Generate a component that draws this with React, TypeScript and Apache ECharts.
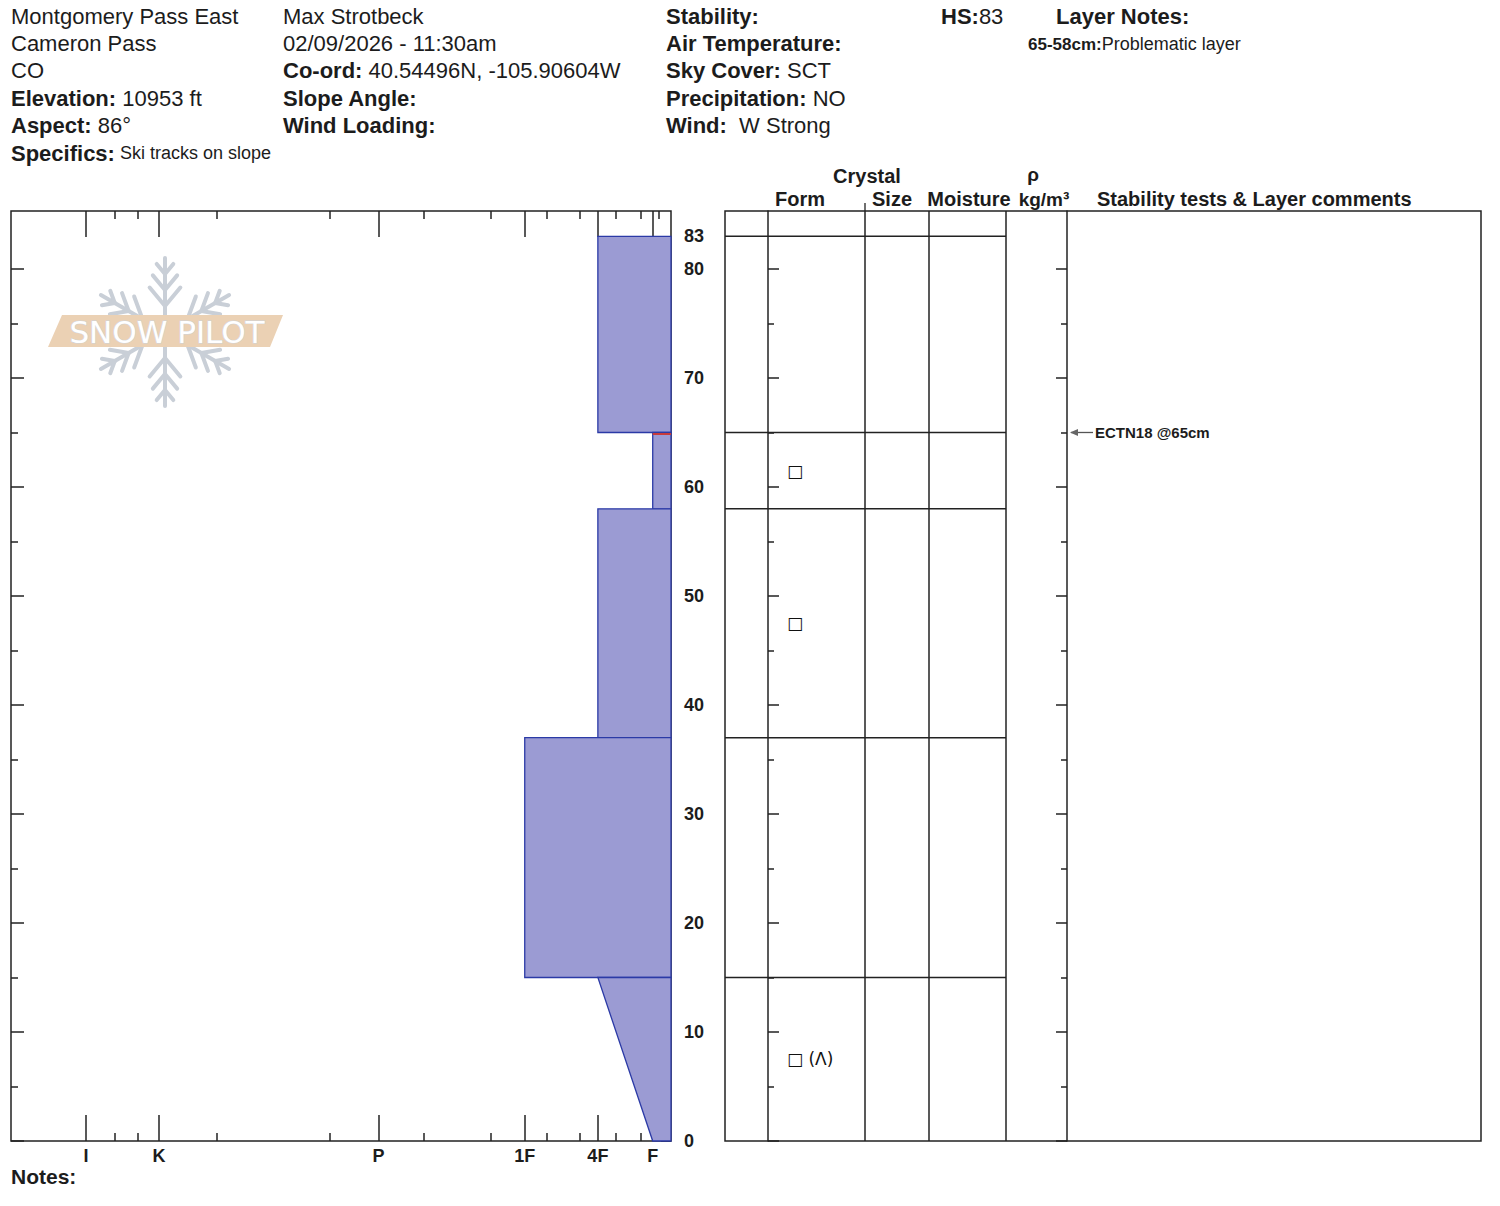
import React, { useEffect, useRef } from "react";
import * as echarts from "echarts";

// ---------- data ----------
const HARDNESS_CODES = ["F", "4F", "1F", "P", "K", "I"];
const HARDNESS_VALUES = [1, 4, 8, 16, 28, 32];
const HARDNESS_MINOR_VALUES = [0.68, 1.67, 3.01, 5.0, 6.77, 9.85, 13.51, 18.68, 24.84, 29.18, 30.42];
const HARDNESS_AXIS_MAX = 36.1;

const DEPTH_MAX = 85.32;
const DEPTH_MAJOR_TICKS = [0, 10, 20, 30, 40, 50, 60, 70, 80];
const DEPTH_MINOR_TICKS = [5, 15, 25, 35, 45, 55, 65, 75];
const DEPTH_LABELS = [0, 10, 20, 30, 40, 50, 60, 70, 80, 83];

const LAYER_TOP = [83, 65, 58, 37, 15];
const LAYER_BOTTOM = [65, 58, 37, 15, 0];
const LAYER_HARD_TOP = ["4F", "F", "4F", "1F", "4F"];
const LAYER_HARD_BOTTOM = ["4F", "F", "4F", "1F", "F"];
const LAYER_FORM = ["", "□", "□", "", "□ (Λ)"];

const TEST_DEPTH = [65];
const TEST_TEXT = ["ECTN18 @65cm"];

// ---------- layout constants ----------
const FONT = "'Liberation Sans', Arial, Helvetica, sans-serif";
const INK = "#1c1c1c";
const LINE = "#222";
const TABLE_WIDTH = 756;
const COL_FORM_START = 43;
const COL_SIZE_START = 140;
const COL_MOIST_START = 204;
const COL_DENS_START = 281;
const COL_COMMENT_START = 342;
const FORM_TEXT_X = 62;

const hv = (code: string) => HARDNESS_VALUES[HARDNESS_CODES.indexOf(code)];

function txt(x: number, y: number, text: string, size: number, bold = false, align = "left", extra: any = {}) {
  return {
    type: "text",
    x,
    y,
    silent: true,
    style: {
      text,
      fill: INK,
      fontSize: size,
      fontFamily: FONT,
      fontWeight: bold ? "bold" : "normal",
      align,
      verticalAlign: "middle",
      ...extra,
    },
  };
}

function richTxt(x: number, y: number, label: string, value: string, size = 22, valueSize = 22) {
  return {
    type: "text",
    x,
    y,
    silent: true,
    style: {
      text: `{b|${label}}{r|${value}}`,
      fill: INK,
      fontSize: size,
      fontFamily: FONT,
      verticalAlign: "middle",
      rich: {
        b: { fontWeight: "bold", fontSize: size, fontFamily: FONT, fill: INK },
        r: { fontWeight: "normal", fontSize: valueSize, fontFamily: FONT, fill: INK },
      },
    },
  };
}

function snowflake(cx: number, cy: number) {
  const st = { stroke: "#c9cfd7", lineWidth: 4, lineCap: "round" };
  const branches = [
    [58, 13],
    [42, 19],
    [26, 24],
  ];
  const angles = [30, 90, 150, 210, 270, 330];
  return {
    type: "group",
    x: cx,
    y: cy,
    silent: true,
    z: 0,
    children: angles.map((a) => ({
      type: "group",
      rotation: (a * Math.PI) / 180,
      children: [
        { type: "line", shape: { x1: 8, y1: 0, x2: 74, y2: 0 }, style: st },
        ...branches.flatMap(([r, l]) => [
          { type: "line", shape: { x1: r, y1: 0, x2: r + l * 0.77, y2: l * 0.64 }, style: st },
          { type: "line", shape: { x1: r, y1: 0, x2: r + l * 0.77, y2: -l * 0.64 }, style: st },
        ]),
      ],
    })),
  };
}

const tickStyle = { color: LINE, width: 1.5 };

export default function App() {
  const ref = useRef<HTMLDivElement>(null);

  useEffect(() => {
    document.body.style.margin = "0";
    if (!ref.current) return;
    const chart = echarts.init(ref.current, undefined, { renderer: "svg" });

    const hardBase: any = {
      type: "value",
      gridIndex: 0,
      min: 0,
      max: HARDNESS_AXIS_MAX,
      inverse: true,
      splitLine: { show: false },
      axisLine: { show: false, onZero: false },
      axisLabel: { show: false },
    };
    const depthBase: any = {
      type: "value",
      min: 0,
      max: DEPTH_MAX,
      splitLine: { show: false },
      axisLine: { show: false, onZero: false },
      axisLabel: { show: false },
    };
    const tick = (values: number[], length: number) => ({
      show: true,
      inside: true,
      length,
      customValues: values,
      lineStyle: tickStyle,
    });

    const layerData = LAYER_TOP.map((t, i) => [hv(LAYER_HARD_TOP[i]), t, hv(LAYER_HARD_BOTTOM[i]), LAYER_BOTTOM[i]]);
    const testMarkData = TEST_DEPTH.map((d) => {
      const i = LAYER_TOP.indexOf(d);
      return [hv(LAYER_HARD_TOP[i >= 0 ? i : 0]), d];
    });
    const boundaryData = LAYER_TOP.map((t) => [0, t]);
    const formData = LAYER_FORM.map((f, i) => [FORM_TEXT_X, (LAYER_TOP[i] + LAYER_BOTTOM[i]) / 2, i]);
    const testData = TEST_DEPTH.map((d, i) => [COL_COMMENT_START, d, i]);

    const colLine = (x: number) => ({
      type: "line",
      silent: true,
      shape: { x1: 725 + x, y1: 211, x2: 725 + x, y2: 1141 },
      style: { stroke: LINE, lineWidth: 1.5 },
    });

    const option: any = {
      animation: false,
      backgroundColor: "#ffffff",
      grid: [
        { left: 11, top: 211, width: 660, height: 930, show: true, borderColor: LINE, borderWidth: 1.5, outerBoundsMode: "none" },
        { left: 725, top: 211, width: TABLE_WIDTH, height: 930, show: true, borderColor: LINE, borderWidth: 1.5, outerBoundsMode: "none" },
      ],
      xAxis: [
        {
          ...hardBase,
          position: "bottom",
          axisTick: tick(HARDNESS_VALUES, 26),
          axisLabel: {
            show: true,
            customValues: HARDNESS_VALUES,
            formatter: (v: number) => {
              const i = HARDNESS_VALUES.findIndex((h) => Math.abs(h - v) < 1e-6);
              return i >= 0 ? HARDNESS_CODES[i] : "";
            },
            margin: 6,
            fontSize: 18,
            fontWeight: "bold",
            fontFamily: FONT,
            color: INK,
          },
        },
        { ...hardBase, position: "bottom", axisTick: tick(HARDNESS_MINOR_VALUES, 8) },
        { ...hardBase, position: "top", axisTick: tick(HARDNESS_VALUES, 26) },
        { ...hardBase, position: "top", axisTick: tick(HARDNESS_MINOR_VALUES, 8) },
        { type: "value", gridIndex: 1, min: 0, max: TABLE_WIDTH, show: false },
      ],
      yAxis: [
        {
          ...depthBase,
          gridIndex: 0,
          position: "right",
          axisTick: tick([...DEPTH_MAJOR_TICKS, 83], 10),
          axisLabel: {
            show: true,
            customValues: DEPTH_LABELS,
            margin: 13,
            fontSize: 18,
            fontWeight: "bold",
            fontFamily: FONT,
            color: INK,
          },
        },
        { ...depthBase, gridIndex: 0, position: "right", axisTick: tick(DEPTH_MINOR_TICKS, 6) },
        { ...depthBase, gridIndex: 0, position: "left", axisTick: tick(DEPTH_MAJOR_TICKS, 13) },
        { ...depthBase, gridIndex: 0, position: "left", axisTick: tick(DEPTH_MINOR_TICKS, 7) },
        {
          ...depthBase,
          gridIndex: 1,
          position: "left",
          offset: -COL_FORM_START,
          axisLine: { show: true, onZero: false, lineStyle: tickStyle },
          axisTick: tick(DEPTH_MAJOR_TICKS, 11),
        },
        { ...depthBase, gridIndex: 1, position: "left", offset: -COL_FORM_START, axisTick: tick(DEPTH_MINOR_TICKS, 6) },
        {
          ...depthBase,
          gridIndex: 1,
          position: "right",
          offset: -(TABLE_WIDTH - COL_COMMENT_START),
          axisLine: { show: true, onZero: false, lineStyle: tickStyle },
          axisTick: tick(DEPTH_MAJOR_TICKS, 11),
        },
        {
          ...depthBase,
          gridIndex: 1,
          position: "right",
          offset: -(TABLE_WIDTH - COL_COMMENT_START),
          axisTick: tick(DEPTH_MINOR_TICKS, 6),
        },
      ],
      series: [
        {
          type: "custom",
          name: "layers",
          coordinateSystem: "cartesian2d",
          xAxisIndex: 0,
          yAxisIndex: 0,
          data: layerData,
          z: 3,
          renderItem: (_p: any, api: any) => {
            const hTop = api.value(0);
            const top = api.value(1);
            const hBot = api.value(2);
            const bot = api.value(3);
            const pts = [api.coord([hTop, top]), api.coord([0, top]), api.coord([0, bot]), api.coord([hBot, bot])];
            return {
              type: "polygon",
              shape: { points: pts },
              style: { fill: "#9b9bd3", stroke: "#2b3aa6", lineWidth: 1.3 },
            };
          },
        },
        {
          type: "custom",
          name: "test marks",
          coordinateSystem: "cartesian2d",
          xAxisIndex: 0,
          yAxisIndex: 0,
          data: testMarkData,
          z: 4,
          renderItem: (_p: any, api: any) => {
            const a = api.coord([api.value(0), api.value(1)]);
            const b = api.coord([0, api.value(1)]);
            return {
              type: "line",
              shape: { x1: a[0], y1: a[1] + 1.5, x2: b[0], y2: b[1] + 1.5 },
              style: { stroke: "#c83a3a", lineWidth: 2 },
            };
          },
        },
        {
          type: "custom",
          name: "layer boundaries",
          coordinateSystem: "cartesian2d",
          xAxisIndex: 4,
          yAxisIndex: 4,
          data: boundaryData,
          z: 3,
          renderItem: (_p: any, api: any) => {
            const a = api.coord([0, api.value(1)]);
            const b = api.coord([COL_DENS_START, api.value(1)]);
            return {
              type: "line",
              shape: { x1: a[0], y1: a[1], x2: b[0], y2: b[1] },
              style: { stroke: LINE, lineWidth: 1.5 },
            };
          },
        },
        {
          type: "custom",
          name: "grain form",
          coordinateSystem: "cartesian2d",
          xAxisIndex: 4,
          yAxisIndex: 4,
          data: formData,
          z: 4,
          renderItem: (_p: any, api: any) => {
            const p = api.coord([api.value(0), api.value(1)]);
            return {
              type: "text",
              x: p[0],
              y: p[1],
              style: {
                text: LAYER_FORM[api.value(2)],
                fill: "#111111",
                fontSize: 17,
                fontFamily: "'DejaVu Sans', sans-serif",
                align: "left",
                verticalAlign: "middle",
              },
            };
          },
        },
        {
          type: "custom",
          name: "stability tests",
          coordinateSystem: "cartesian2d",
          xAxisIndex: 4,
          yAxisIndex: 4,
          data: testData,
          z: 4,
          renderItem: (_p: any, api: any) => {
            const p = api.coord([api.value(0), api.value(1)]);
            const x0 = p[0];
            const y = p[1];
            return {
              type: "group",
              children: [
                { type: "line", shape: { x1: x0 + 4, y1: y, x2: x0 + 26, y2: y }, style: { stroke: "#555", lineWidth: 1.3 } },
                {
                  type: "polygon",
                  shape: { points: [[x0 + 3, y], [x0 + 11, y - 3.5], [x0 + 11, y + 3.5]] },
                  style: { fill: "#666" },
                },
                {
                  type: "text",
                  x: x0 + 28,
                  y,
                  style: {
                    text: TEST_TEXT[api.value(2)],
                    fill: INK,
                    fontSize: 15,
                    fontWeight: "bold",
                    fontFamily: FONT,
                    align: "left",
                    verticalAlign: "middle",
                  },
                },
              ],
            };
          },
        },
      ],
      graphic: [
        snowflake(165, 332),
        {
          type: "polygon",
          silent: true,
          z: 1,
          shape: { points: [[62, 315], [283, 315], [270, 347], [48, 347]] },
          style: { fill: "#ebd1b4" },
        },
        {
          type: "text",
          silent: true,
          z: 2,
          x: 167,
          y: 332,
          style: {
            text: "SNOW PILOT",
            fill: "#ffffff",
            stroke: "#cfd4da",
            lineWidth: 1,
            fontSize: 31,
            fontFamily: "'DejaVu Sans', sans-serif",
            align: "center",
            verticalAlign: "middle",
          },
        },
        txt(11, 16, "Montgomery Pass East", 22),
        txt(11, 43, "Cameron Pass", 22),
        txt(11, 70, "CO", 22),
        richTxt(11, 98, "Elevation:", " 10953 ft"),
        richTxt(11, 125, "Aspect:", " 86°"),
        richTxt(11, 153, "Specifics:", " Ski tracks on slope", 22, 18),
        txt(283, 16, "Max Strotbeck", 22),
        txt(283, 43, "02/09/2026 - 11:30am", 22),
        richTxt(283, 70, "Co-ord:", " 40.54496N, -105.90604W"),
        txt(283, 98, "Slope Angle:", 22, true),
        txt(283, 125, "Wind Loading:", 22, true),
        txt(666, 16, "Stability:", 22, true),
        txt(666, 43, "Air Temperature:", 22, true),
        richTxt(666, 70, "Sky Cover:", " SCT"),
        richTxt(666, 98, "Precipitation:", " NO"),
        richTxt(666, 125, "Wind:", "  W Strong"),
        richTxt(941, 16, "HS:", "83"),
        txt(1056, 16, "Layer Notes:", 22, true),
        richTxt(1028, 44, "65-58cm:", "Problematic layer", 17, 18),
        txt(867, 176, "Crystal", 20, true, "center"),
        txt(800, 199, "Form", 20, true, "center"),
        txt(892, 199, "Size", 20, true, "center"),
        txt(969, 199, "Moisture", 20, true, "center"),
        txt(1033, 174, "ρ", 19, true, "center"),
        txt(1044, 199, "kg/m³", 19, true, "center"),
        txt(1097, 199, "Stability tests & Layer comments", 20, true, "left"),
        {
          type: "line",
          silent: true,
          shape: { x1: 865, y1: 203, x2: 865, y2: 211 },
          style: { stroke: LINE, lineWidth: 1.3 },
        },
        colLine(COL_SIZE_START),
        colLine(COL_MOIST_START),
        colLine(COL_DENS_START),
        txt(11, 1176, "Notes:", 21, true),
      ],
    };

    chart.setOption(option);
    return () => chart.dispose();
  }, []);

  return <div ref={ref} style={{ width: 1500, height: 1206 }} />;
}
